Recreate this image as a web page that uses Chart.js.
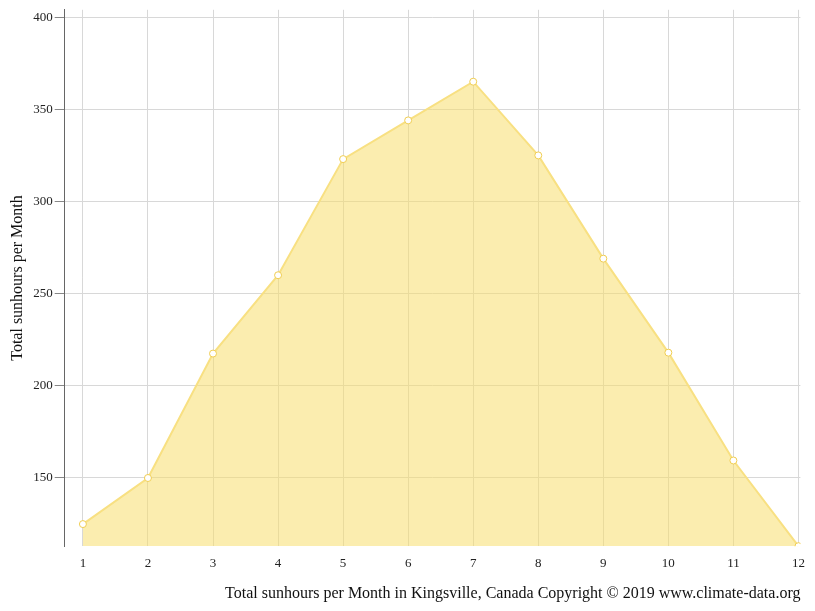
<!DOCTYPE html>
<html>
<head>
<meta charset="utf-8">
<script src="https://cdn.jsdelivr.net/npm/chart.js@4"></script>
<style>
  body { margin: 0; background: #fff; }
  #wrap { width: 815px; height: 611px; }
</style>
</head>
<body>
<div id="wrap"><canvas id="chart"></canvas></div>
<script>
const months = [1, 2, 3, 4, 5, 6, 7, 8, 9, 10, 11, 12];
const sunhours = [125, 150, 217.5, 260, 323, 344, 365, 325, 269, 218, 159.5, 113];
const yTicks = [150, 200, 250, 300, 350, 400];

const font = { family: 'Liberation Serif', size: 13 };

new Chart(document.getElementById('chart'), {
    type: 'line',
    data: {
        datasets: [{
            data: months.map((m, i) => ({ x: m, y: sunhours[i] })),
            borderColor: 'rgba(248,224,130,1)',
            backgroundColor: 'rgba(247,222,110,0.55)',
            borderWidth: 2,
            fill: 'start',
            tension: 0,
            pointRadius: 3.5,
            pointBackgroundColor: '#fff',
            pointBorderColor: 'rgba(240,205,80,1)',
            pointBorderWidth: 1
        }]
    },
    options: {
        responsive: true,
        maintainAspectRatio: false,
        animation: false,
        layout: { padding: { top: 8, right: 12, left: 4, bottom: 4 } },
        plugins: { legend: { display: false }, tooltip: { enabled: false } },
        scales: {
            x: {
                type: 'linear',
                min: 0.72,
                max: 12.03,
                afterBuildTicks: axis => { axis.ticks = months.map(v => ({ value: v })); },
                grid: { color: '#d8d8d8', drawTicks: false },
                border: { display: false },
                ticks: { color: '#222', font: font, padding: 10 },
                title: {
                    display: true,
                    align: 'end',
                    text: 'Total sunhours per Month in Kingsville, Canada Copyright © 2019 www.climate-data.org',
                    color: '#111',
                    font: { family: 'Liberation Serif', size: 16 },
                    padding: { top: 2 }
                }
            },
            y: {
                min: 113,
                max: 404,
                afterBuildTicks: axis => { axis.ticks = yTicks.map(v => ({ value: v })); },
                grid: { color: '#d8d8d8', tickColor: '#888', tickLength: 10 },
                border: { display: true, color: '#666', width: 1 },
                ticks: { color: '#222', font: font, padding: 2 },
                title: {
                    display: true,
                    text: 'Total sunhours per Month',
                    color: '#111',
                    font: { family: 'Liberation Serif', size: 16 }
                }
            }
        }
    }
});
</script>
</body>
</html>
